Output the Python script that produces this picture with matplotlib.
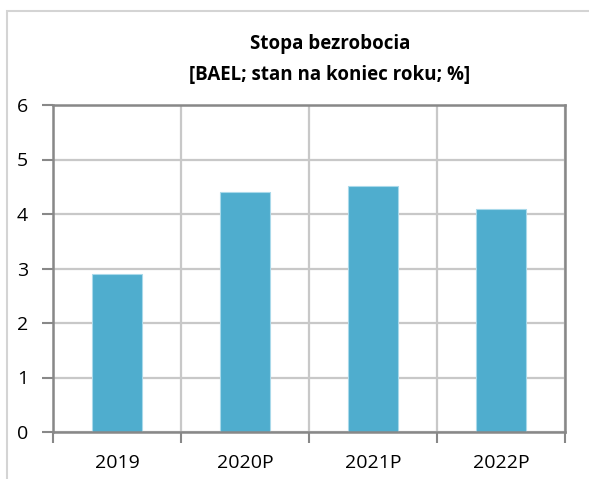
import matplotlib
matplotlib.use("Agg")
import matplotlib.pyplot as plt
from matplotlib.patches import Rectangle

categories = ["2019", "2020P", "2021P", "2022P"]
values = [2.9, 4.4, 4.52, 4.1]
yticks = [0, 1, 2, 3, 4, 5, 6]

plt.rcParams["font.family"] = ["Open Sans", "DejaVu Sans"]

W, H = 589, 479
fig = plt.figure(figsize=(W / 100, H / 100), dpi=100)
ax = fig.add_axes([53 / W, 1 - 432 / H, 512 / W, 327 / H])

x = list(range(len(categories)))
ax.bar(x, values, width=0.39, color="#4FADCE", edgecolor="#A9D9EA", linewidth=0.8, zorder=3)

ax.set_xlim(-0.5, len(categories) - 0.5)
ax.set_ylim(0, 6)
ax.set_yticks(yticks)
ax.set_yticklabels([str(t) for t in yticks], fontsize=14)
ax.set_xticks([i - 0.5 for i in range(len(categories) + 1)], minor=False)
ax.set_xticklabels([])
ax.set_xticks(x, minor=True)
ax.set_xticklabels(categories, minor=True, fontsize=14)

ax.grid(True, axis="both", which="major", color="#C8C8C8", linewidth=1.6, zorder=0)
ax.tick_params(axis="x", which="major", length=8, width=1.5, color="#888888", direction="out")
ax.tick_params(axis="x", which="minor", length=0, pad=16)
ax.tick_params(axis="y", length=8, width=1.5, color="#888888", pad=10)
for s in ax.spines.values():
    s.set_color("#888888")
    s.set_linewidth(1.8)
    s.set_zorder(4)

fig.text(330 / W, 1 - 44 / H, "Stopa bezrobocia", ha="center", va="center",
         fontsize=13.5, fontweight="bold")
fig.text(330 / W, 1 - 75 / H, "[BAEL; stan na koniec roku; %]", ha="center", va="center",
         fontsize=13.5, fontweight="bold")

# obramowanie wykresu
fig.patches.append(Rectangle((7 / W, -0.1), 1.2, 1.1 - 11 / H, transform=fig.transFigure,
                             fill=False, edgecolor="#D4D4D4", linewidth=1.5))

fig.savefig("out.png", dpi=100)
